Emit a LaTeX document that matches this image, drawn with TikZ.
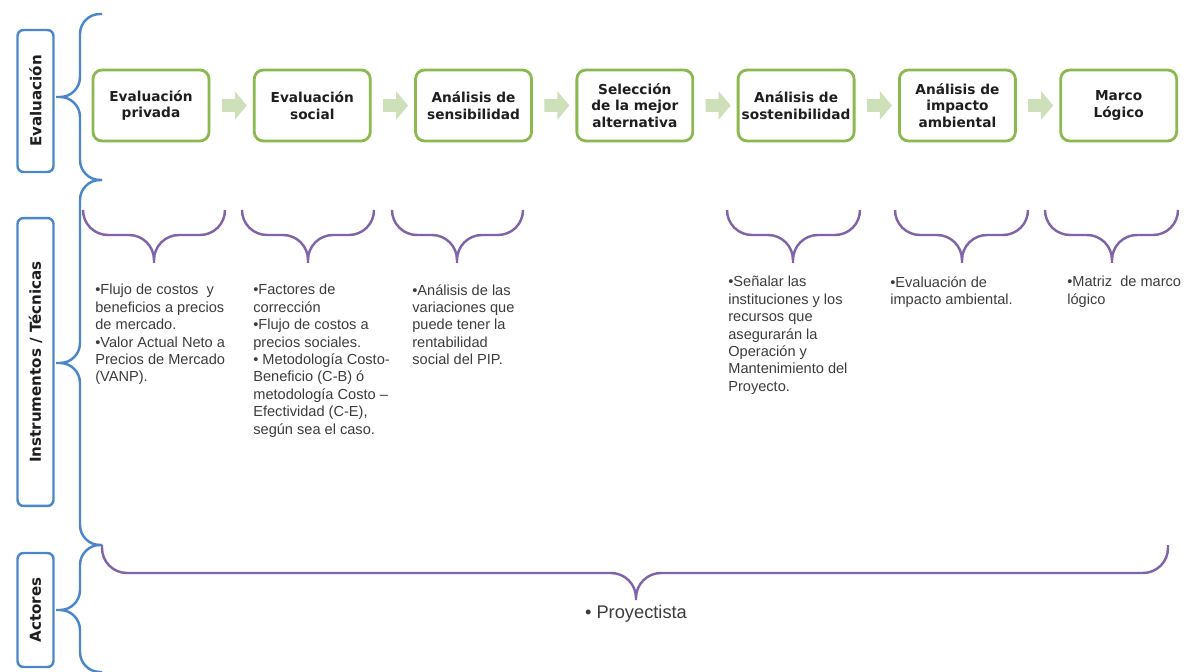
\documentclass[tikz,border=0pt]{standalone}
\usepackage{fontspec}
\setmainfont{Liberation Sans}
\newfontfamily\boxfont{DejaVu Sans}
\usepackage{xcolor}
\definecolor{Green}{RGB}{140,184,80}
\definecolor{LightGreen}{RGB}{205,224,185}
\definecolor{Blue}{RGB}{75,135,200}
\definecolor{Purple}{RGB}{128,100,170}
\definecolor{Gray}{RGB}{60,60,60}
\definecolor{Black}{RGB}{30,30,30}
\usetikzlibrary{positioning, calc, shapes.arrows}

\begin{document}
\begin{tikzpicture}[x=0.02cm, y=-0.02cm,
		stage/.style={draw=Green, line width=1.6pt, rounded corners=0.18cm, minimum width=2.32cm, minimum height=1.42cm, align=center, text=Black, inner sep=2pt, font=\boxfont\bfseries\fontsize{7.8}{9.6}\selectfont},
		sidebox/.style={draw=Blue, line width=1.4pt, rounded corners=0.12cm, rotate=90, minimum height=0.72cm, text=Black, font=\boxfont\bfseries\fontsize{8.6}{10}\selectfont},
		flow/.style={single arrow, fill=LightGreen, minimum height=0.5cm, inner sep=0.12cm, single arrow head extend=0.16cm, single arrow tip angle=100},
		bluebrace/.style={draw=Blue, line width=1.4pt, rounded corners=0.4cm},
		purplebrace/.style={draw=Purple, line width=1.4pt, rounded corners=0.5cm},
		notes/.style={anchor=north west, inner sep=0pt, align=left, text=Gray, font=\fontsize{8.3}{9.9}\selectfont}]
		
		\useasboundingbox (0,0) rectangle (1191,672);
		
		% Rows
		\node[sidebox, minimum width=2.84cm] (eval) at (35.5,101) {Evaluación};
		\node[sidebox, minimum width=5.76cm] (inst) at (35.5,362) {Instrumentos / Técnicas};
		\node[sidebox, minimum width=2.28cm] (act) at (35.5,610) {Actores};
		
		\draw[bluebrace] (102,14) -| (80,97) -- (56,97) (102,180) -| (80,97) -- (56,97);
		\draw[bluebrace] (102,180) -| (80,363) -- (56,363) (102,545) -| (80,363) -- (56,363);
		\draw[bluebrace] (102,545) -| (80,610) -- (56,610) (102,672) -| (80,610) -- (56,610);
		
		% Stages
		\node[stage] (b1) at (151,105.5) {Evaluación\\privada};
		\node[stage, right=0.85cm of b1] (b2) {Evaluación\\social};
		\node[stage, right=0.85cm of b2] (b3) {Análisis de\\sensibilidad};
		\node[stage, right=0.85cm of b3] (b4) {Selección\\de la mejor\\alternativa};
		\node[stage, right=0.85cm of b4] (b5) {Análisis de\\sostenibilidad};
		\node[stage, right=0.85cm of b5] (b6) {Análisis de\\impacto\\ambiental};
		\node[stage, right=0.85cm of b6] (b7) {Marco\\Lógico};
		
		% Flow
		\node[flow] (f1) at ($(b1.east)!0.5!(b2.west)$) {};
		\node[flow] (f2) at ($(b2.east)!0.5!(b3.west)$) {};
		\node[flow] (f3) at ($(b3.east)!0.5!(b4.west)$) {};
		\node[flow] (f4) at ($(b4.east)!0.5!(b5.west)$) {};
		\node[flow] (f5) at ($(b5.east)!0.5!(b6.west)$) {};
		\node[flow] (f6) at ($(b6.east)!0.5!(b7.west)$) {};
		
		% Tools
		\draw[purplebrace] (83,210) |- (154,235) -- (154,263) (225,210) |- (154,235) -- (154,263);
		\draw[purplebrace] (242,210) |- (308,235) -- (308,263) (374,210) |- (308,235) -- (308,263);
		\draw[purplebrace] (392,210) |- (457,235) -- (457,263) (523,210) |- (457,235) -- (457,263);
		\draw[purplebrace] (727,210) |- (793,235) -- (793,263) (860,210) |- (793,235) -- (793,263);
		\draw[purplebrace] (895,210) |- (962,235) -- (962,263) (1028,210) |- (962,235) -- (962,263);
		\draw[purplebrace] (1045,210) |- (1112,235) -- (1112,263) (1178,210) |- (1112,235) -- (1112,263);
		
		\node[notes] (n1) at (95,284) {•Flujo de costos \ y\\beneficios a precios\\de mercado.\\•Valor Actual Neto a\\Precios de Mercado\\(VANP).};
		\node[notes] (n2) at (253,284) {•Factores de\\corrección\\•Flujo de costos a\\precios sociales.\\• Metodología Costo-\\Beneficio (C-B) ó\\metodología Costo –\\Efectividad (C-E),\\según sea el caso.};
		\node[notes] (n3) at (412,284) {•Análisis de las\\variaciones que\\puede tener la\\rentabilidad\\social del PIP.};
		\node[notes] (n5) at (728,276) {•Señalar las\\instituciones y los\\recursos que\\asegurarán la\\Operación y\\Mantenimiento del\\Proyecto.};
		\node[notes] (n6) at (890,276) {•Evaluación de\\impacto ambiental.};
		\node[notes] (n7) at (1067,276) {•Matriz \ de marco\\lógico};
		
		% Actors
		\draw[purplebrace] (102,545) |- (636,573) -- (636,600) (1168,545) |- (636,573) -- (636,600);
		\node[anchor=base, text=Gray, font=\fontsize{10.4}{12}\selectfont] (pr) at (636,618) {• Proyectista};
		
	\end{tikzpicture}
\end{document}
